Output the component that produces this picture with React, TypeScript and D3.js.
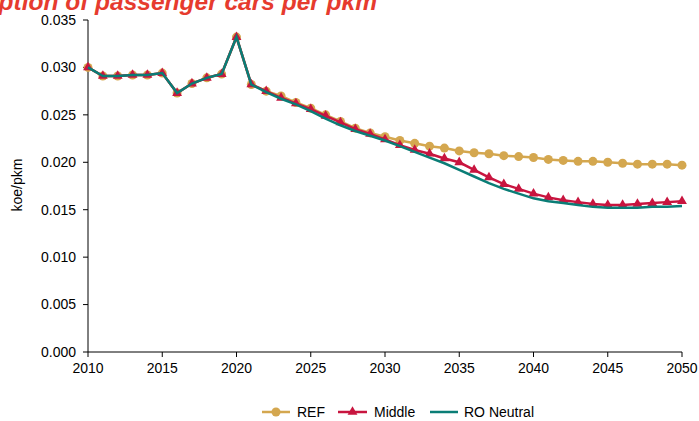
import React from "react";
import * as d3 from "d3";

const years: number[] = d3.range(2010, 2051);

const refValues: number[] = [
  0.0300, 0.0291, 0.0291, 0.0292, 0.0292, 0.0294, 0.0273, 0.0283, 0.0289, 0.0293,
  0.0332, 0.0282, 0.0275, 0.0270, 0.0263, 0.0257, 0.0250, 0.0243, 0.0236, 0.0231,
  0.0227, 0.0223, 0.0220, 0.0217, 0.0215, 0.0212, 0.0210, 0.0209, 0.0207, 0.0206,
  0.0205, 0.0203, 0.0202, 0.0201, 0.0201, 0.0200, 0.0199, 0.0198, 0.0198, 0.0198,
  0.0197,
];

const middleValues: number[] = [
  0.0300, 0.0291, 0.0291, 0.0292, 0.0292, 0.0294, 0.0273, 0.0283, 0.0289, 0.0293,
  0.0332, 0.0282, 0.0275, 0.0268, 0.0262, 0.0256, 0.0249, 0.0242, 0.0235, 0.0230,
  0.0224, 0.0218, 0.0213, 0.0209, 0.0204, 0.0200, 0.0192, 0.0184, 0.0177, 0.0172,
  0.0167, 0.0163, 0.0160, 0.0158, 0.0156, 0.0155, 0.0155, 0.0156, 0.0157, 0.0158,
  0.0159,
];

const neutralValues: number[] = [
  0.0300, 0.0291, 0.0291, 0.0292, 0.0292, 0.0294, 0.0273, 0.0283, 0.0289, 0.0293,
  0.0332, 0.0282, 0.0274, 0.0267, 0.0261, 0.0254, 0.0246, 0.0239, 0.0233, 0.0228,
  0.0223, 0.0217, 0.0211, 0.0205, 0.0199, 0.0192, 0.0185, 0.0178, 0.0172, 0.0167,
  0.0162, 0.0159, 0.0157, 0.0155, 0.0153, 0.0152, 0.0152, 0.0152, 0.0153, 0.0153,
  0.0154,
];

const xTicks: number[] = [2010, 2015, 2020, 2025, 2030, 2035, 2040, 2045, 2050];
const yTicks: number[] = [0, 0.005, 0.01, 0.015, 0.02, 0.025, 0.03, 0.035];

const titleText = "Energy consumption of passenger cars per pkm";
const yLabel = "koe/pkm";
const seriesNames = ["REF", "Middle", "RO Neutral"];

const COLORS = { ref: "#D4A74F", middle: "#C8153F", neutral: "#0A7D76", title: "#E63B2E" };
const FONT = "'Liberation Sans', Arial, sans-serif";
const FS = 14;

export default function App() {
  const W = 699, H = 421;
  const left = 88, right = 682, top = 20, bottom = 352;
  const x = d3.scaleLinear().domain([2010, 2050]).range([left, right]);
  const y = d3.scaleLinear().domain([0, 0.035]).range([bottom, top]);
  const line = d3.line<number>().x((_, i) => x(years[i])).y((d) => y(d));
  const tri = d3.symbol().type(d3.symbolTriangle).size(42)() as string;

  return (
    <svg width={W} height={H} style={{ position: "absolute", left: 0, top: 0, background: "#fff" }} fontFamily={FONT}>
      <text x={377} y={10} textAnchor="end" fill={COLORS.title} fontSize={24.5} fontWeight="bold" fontStyle="italic">
        {titleText}
      </text>
      {/* y axis */}
      <line x1={left} x2={left} y1={top} y2={bottom} stroke="#000" strokeWidth={1} />
      {yTicks.map((t) => (
        <g key={"y" + t}>
          <line x1={left - 5} x2={left} y1={y(t)} y2={y(t)} stroke="#000" />
          <text x={left - 12} y={y(t)} dy="0.35em" textAnchor="end" fontSize={FS} fill="#000">
            {d3.format(".3f")(t)}
          </text>
        </g>
      ))}
      <text transform={`translate(22,185) rotate(-90)`} textAnchor="middle" fontSize={FS} fill="#000">
        {yLabel}
      </text>
      {/* x axis */}
      <line x1={left} x2={right} y1={bottom} y2={bottom} stroke="#000" strokeWidth={1} />
      {xTicks.map((t) => (
        <g key={"x" + t}>
          <line x1={x(t)} x2={x(t)} y1={bottom} y2={bottom + 5} stroke="#000" />
          <text x={x(t)} y={bottom + 21} textAnchor="middle" fontSize={FS} fill="#000">
            {t}
          </text>
        </g>
      ))}
      {/* REF */}
      <path d={line(refValues) || ""} fill="none" stroke={COLORS.ref} strokeWidth={2.5} />
      {refValues.map((v, i) => (
        <circle key={"r" + i} cx={x(years[i])} cy={y(v)} r={4.5} fill={COLORS.ref} />
      ))}
      {/* Middle */}
      <path d={line(middleValues) || ""} fill="none" stroke={COLORS.middle} strokeWidth={2.5} />
      {middleValues.map((v, i) => (
        <path key={"m" + i} d={tri} transform={`translate(${x(years[i])},${y(v)})`} fill={COLORS.middle} />
      ))}
      {/* RO Neutral */}
      <path d={line(neutralValues) || ""} fill="none" stroke={COLORS.neutral} strokeWidth={2.5} />
      {/* legend */}
      <g fontSize={FS} fill="#000">
        <line x1={262} x2={290} y1={412} y2={412} stroke={COLORS.ref} strokeWidth={2.5} />
        <circle cx={276} cy={412} r={4.5} fill={COLORS.ref} />
        <text x={297} y={412} dy="0.35em">{seriesNames[0]}</text>
        <line x1={338} x2={367} y1={412} y2={412} stroke={COLORS.middle} strokeWidth={2.5} />
        <path d={tri} transform="translate(352.5,412)" fill={COLORS.middle} />
        <text x={374} y={412} dy="0.35em">{seriesNames[1]}</text>
        <line x1={430} x2={458} y1={412} y2={412} stroke={COLORS.neutral} strokeWidth={2.5} />
        <text x={464} y={412} dy="0.35em">{seriesNames[2]}</text>
      </g>
    </svg>
  );
}
